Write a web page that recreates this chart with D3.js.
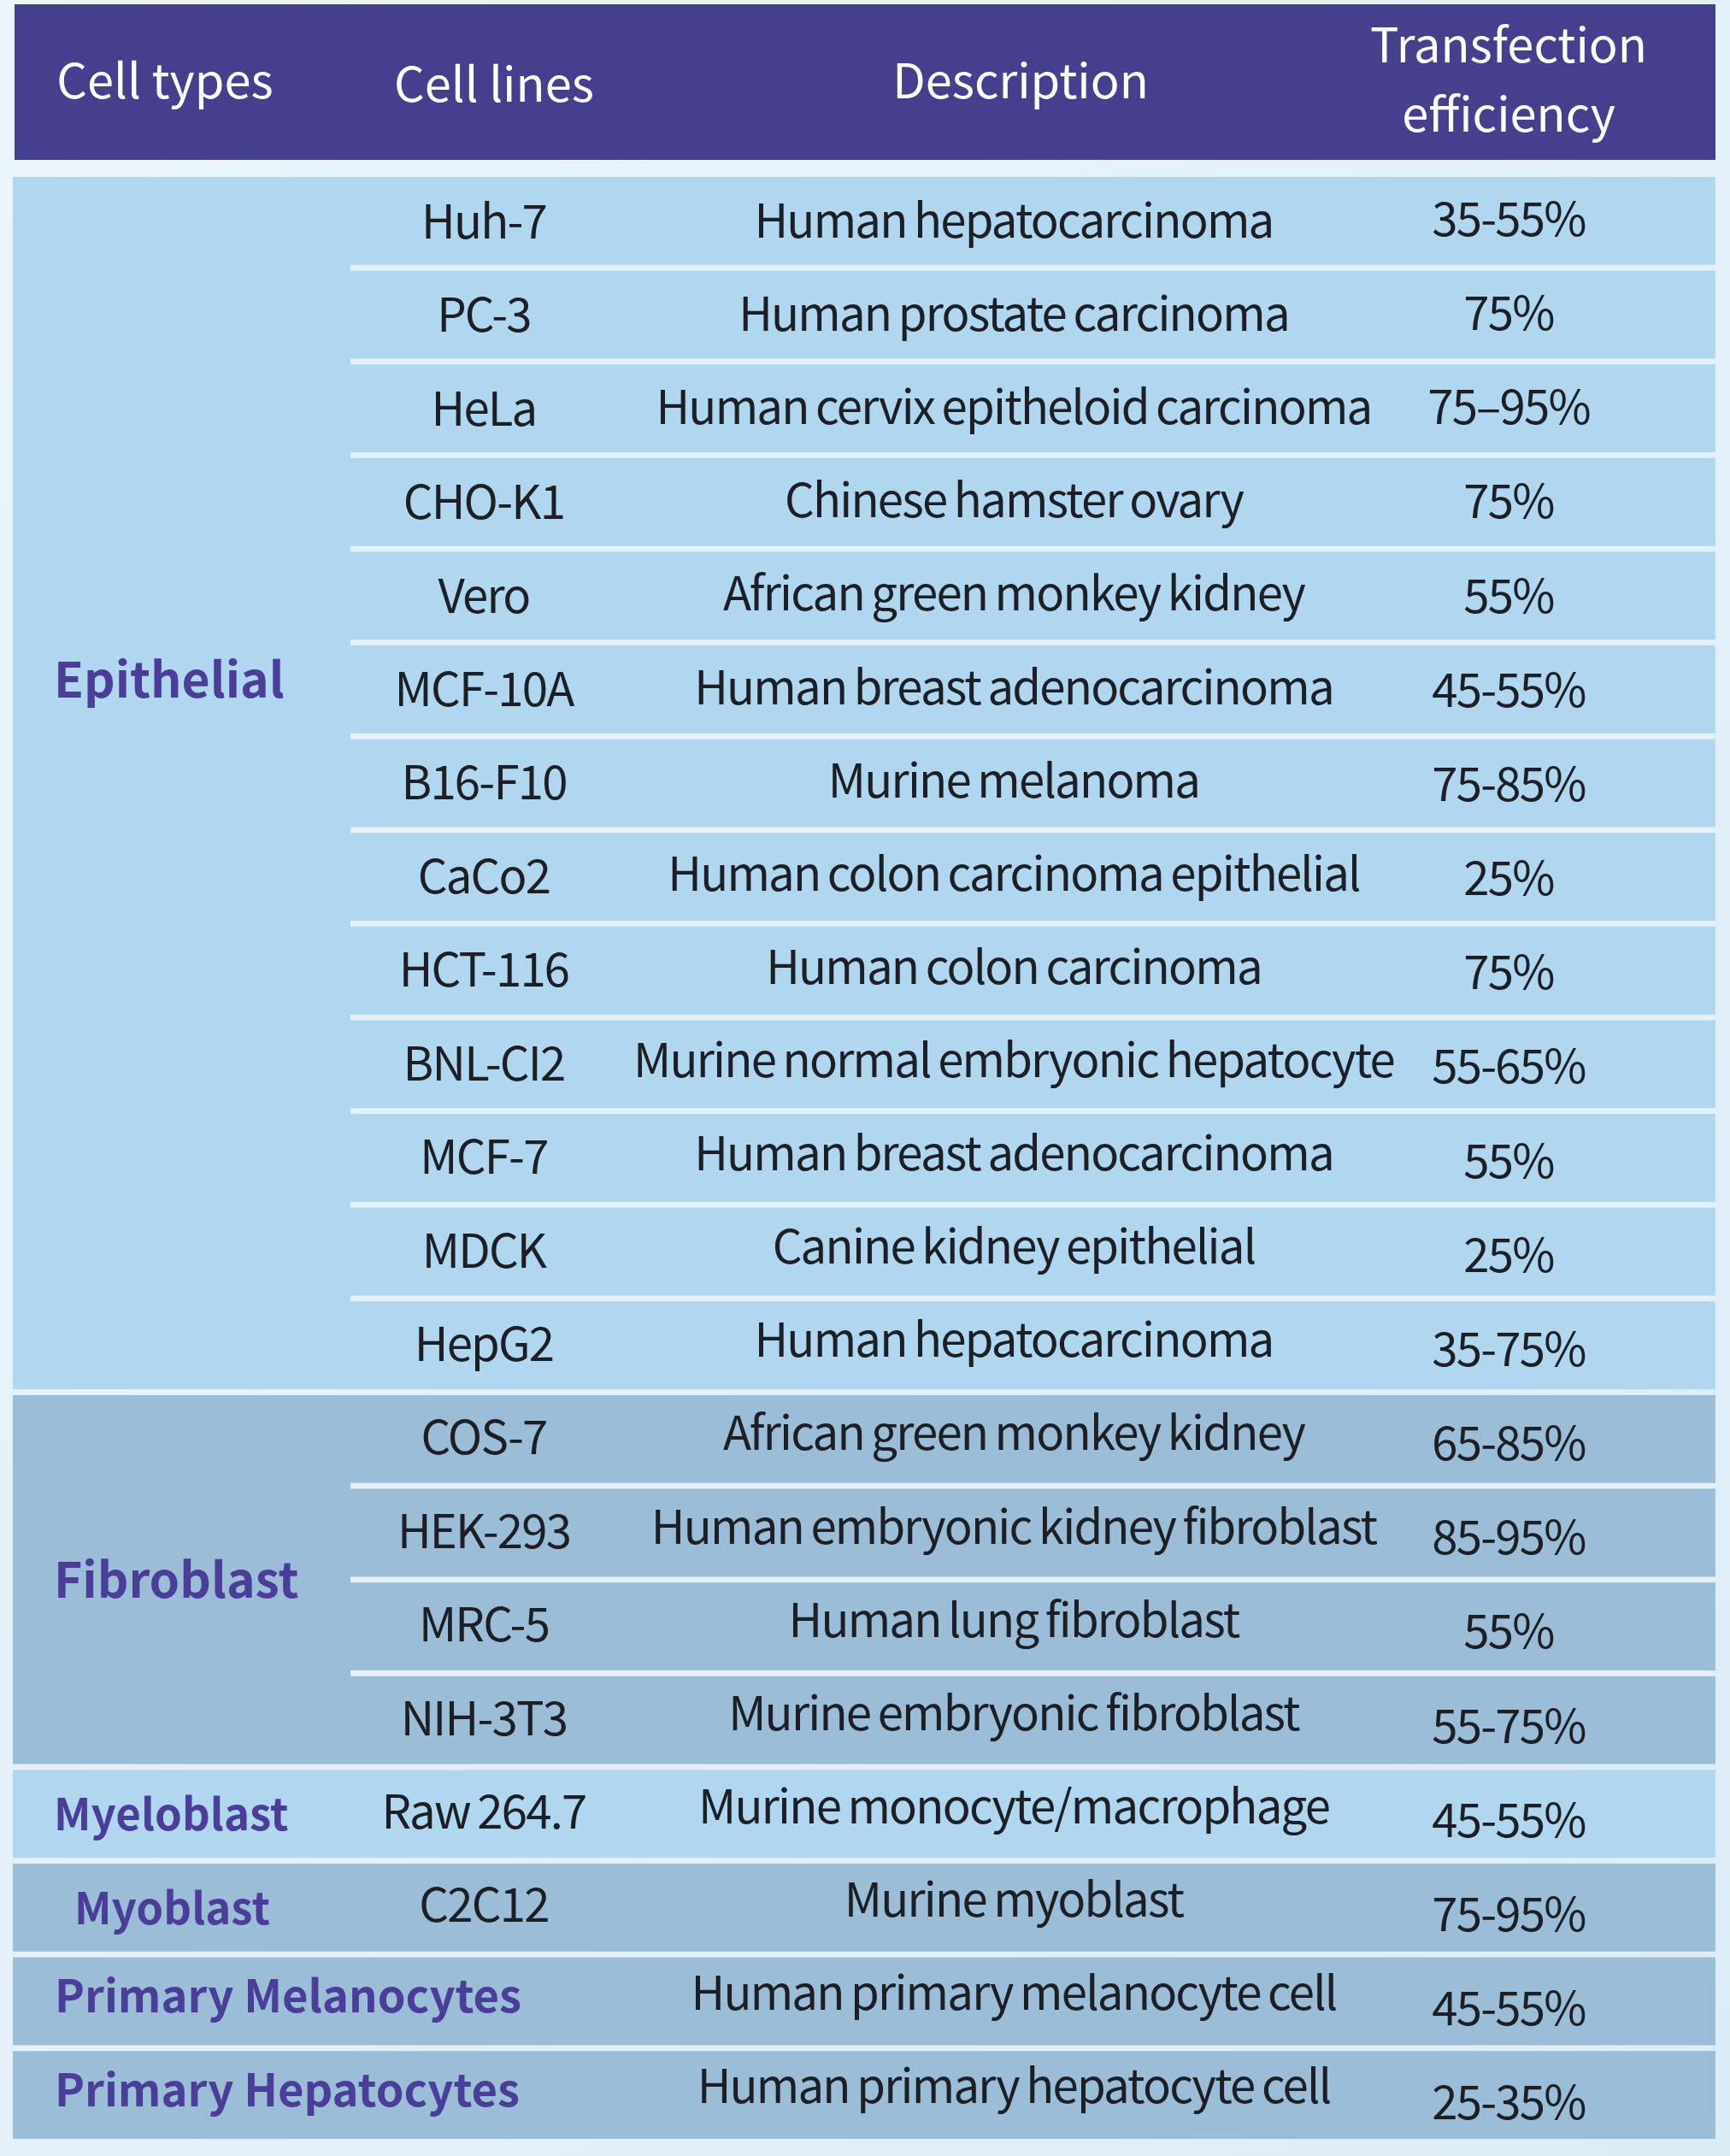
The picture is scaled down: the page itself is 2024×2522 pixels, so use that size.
<!DOCTYPE html>
<html>
<head>
<meta charset="utf-8">
<script src="https://cdn.jsdelivr.net/npm/d3@7/dist/d3.min.js"></script>
<style>
  html, body { margin: 0; padding: 0; background: #e9f4fb; }
  svg { display: block; }
</style>
</head>
<body>
<script>
// ---------------- DATA ----------------
const headers = ["Cell types", "Cell lines", "Description", "Transfection efficiency"];
const cellTypes = ["Epithelial", "Fibroblast", "Myeloblast", "Myoblast", "Primary Melanocytes", "Primary Hepatocytes"];
const groupRowCounts = [13, 4, 1, 1, 1, 1];
const cellLines = ["Huh-7", "PC-3", "HeLa", "CHO-K1", "Vero", "MCF-10A", "B16-F10", "CaCo2", "HCT-116",
  "BNL-CI2", "MCF-7", "MDCK", "HepG2", "COS-7", "HEK-293", "MRC-5", "NIH-3T3", "Raw 264.7", "C2C12", "", ""];
const descriptions = ["Human hepatocarcinoma", "Human prostate carcinoma", "Human cervix epitheloid carcinoma",
  "Chinese hamster ovary", "African green monkey kidney", "Human breast adenocarcinoma", "Murine melanoma",
  "Human colon carcinoma epithelial", "Human colon carcinoma", "Murine normal embryonic hepatocyte",
  "Human breast adenocarcinoma", "Canine kidney epithelial", "Human hepatocarcinoma",
  "African green monkey kidney", "Human embryonic kidney fibroblast", "Human lung fibroblast",
  "Murine embryonic fibroblast", "Murine monocyte/macrophage", "Murine myoblast",
  "Human primary melanocyte cell", "Human primary hepatocyte cell"];
const efficiencies = ["35-55%", "75%", "75–95%", "75%", "55%", "45-55%", "75-85%", "25%", "75%", "55-65%",
  "55%", "25%", "35-75%", "65-85%", "85-95%", "55%", "55-75%", "45-55%", "75-95%", "45-55%", "25-35%"];

// ---------------- LAYOUT / STYLE ----------------
const W = 2024, H = 2522;
const FONT = "'Noto Sans CJK SC', 'Source Sans Pro', 'Noto Sans', sans-serif";
const C = {
  header: "#463f8d",
  light: "#b1d7f0",
  dark: "#9bbdd7",
  sep: "#e2f1fa",
  text: "#1c1f26",
  label: "#4a3e98"
};
const groupShade = ["light", "dark", "light", "dark", "dark", "dark"];

const svg = d3.select("body").append("svg").attr("width", W).attr("height", H);

// background gradient
const defs = svg.append("defs");
const bg = defs.append("linearGradient").attr("id", "bg").attr("x1", 0).attr("y1", 0).attr("x2", 1).attr("y2", 1);
bg.append("stop").attr("offset", 0).attr("stop-color", "#eaf5fc");
bg.append("stop").attr("offset", 0.5).attr("stop-color", "#e4f1fa");
bg.append("stop").attr("offset", 1).attr("stop-color", "#dcecf7");
svg.append("rect").attr("width", W).attr("height", H).attr("fill", "url(#bg)");

const tableLeft = 15, tableRight = 2007, rowSepLeft = 410;

// header
const header = svg.append("g");
header.append("rect").attr("x", 17).attr("y", 5).attr("width", tableRight - 17).attr("height", 182).attr("fill", C.header);

const headerX = d3.scaleOrdinal().domain(headers).range([193, 578, 1194, 1765]);
const HF = 56;
const hg = header.append("g").attr("font-family", FONT).attr("font-size", HF).attr("fill", "#ffffff").attr("text-anchor", "middle");
headers.forEach(h => {
  if (h === "Transfection efficiency") {
    hg.append("text").attr("x", headerX(h)).attr("y", 73).text("Transfection");
    hg.append("text").attr("x", headerX(h)).attr("y", 154).text("efficiency");
  } else {
    hg.append("text").attr("x", headerX(h)).attr("y", h === "Cell lines" ? 119 : 115).text(h);
  }
});

// rows
const nRows = cellLines.length;
const y = d3.scaleBand().domain(d3.range(nRows)).range([207, 2502]).paddingInner(0.062).paddingOuter(0);
const bw = y.bandwidth();

// group index for each row
const groups = [];
let start = 0;
groupRowCounts.forEach((n, gi) => {
  groups.push({ name: cellTypes[gi], start, end: start + n - 1, n, shade: groupShade[gi], gi });
  start += n;
});
const rowGroup = [];
groups.forEach(g => { for (let r = g.start; r <= g.end; r++) rowGroup[r] = g; });

// group rects
svg.append("g").selectAll("rect").data(groups).join("rect")
  .attr("x", tableLeft)
  .attr("y", g => y(g.start))
  .attr("width", tableRight - tableLeft)
  .attr("height", g => y(g.end) + bw - y(g.start))
  .attr("fill", g => C[g.shade]);

// separators inside groups (start at cell-line column)
const sepRows = d3.range(nRows).filter(r => r + 1 < nRows && rowGroup[r] === rowGroup[r + 1]);
svg.append("g").selectAll("rect").data(sepRows).join("rect")
  .attr("x", rowSepLeft)
  .attr("y", r => y(r) + bw)
  .attr("width", tableRight - rowSepLeft)
  .attr("height", y.step() - bw)
  .attr("fill", C.sep);

// cell text
const RF = 54.5;
const colX = { line: 566, desc: 1186, eff: 1765 };
const cells = svg.append("g")
  .attr("font-family", FONT).attr("font-size", RF).attr("fill", C.text)
  .attr("text-anchor", "middle").attr("letter-spacing", -1.8).attr("word-spacing", -2);
d3.range(nRows).forEach(r => {
  const base = y(r) + bw / 2 + RF * 0.378;
  if (cellLines[r]) cells.append("text").attr("x", colX.line).attr("y", base - 0.2 * r).text(cellLines[r]);
  cells.append("text").attr("x", colX.desc).attr("y", base - 1 - 0.5 * r).text(descriptions[r]);
  cells.append("text").attr("x", colX.eff).attr("y", base - 3 + 0.55 * r).text(efficiencies[r]);
});

// group labels
const labels = svg.append("g").attr("font-family", FONT).attr("font-weight", 700).attr("fill", C.label);
groups.forEach(g => {
  const primary = g.name.startsWith("Primary");
  const fs = g.n > 1 ? 57 : (primary ? 52.5 : 51);
  let cy;
  if (g.name === "Epithelial") cy = y(5) + bw / 2 - 12;
  else cy = (y(g.start) + y(g.end) + bw) / 2;
  labels.append("text")
    .attr("x", g.name === "Myoblast" ? 87 : (primary ? 64 : 63))
    .attr("y", primary ? cy + 13 : cy + fs * 0.38)
    .attr("font-size", fs)
    .text(g.name);
});
</script>
</body>
</html>
